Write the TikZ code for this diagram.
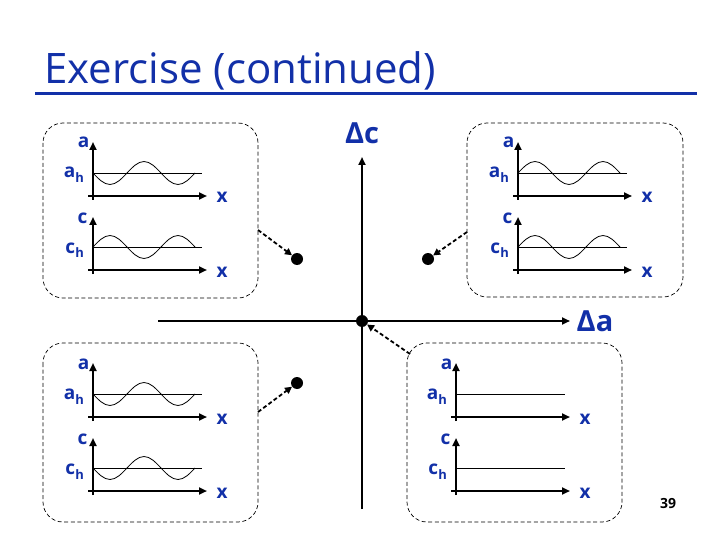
\documentclass[tikz,border=0pt]{standalone}
\usepackage{fontspec}
\setmainfont{Open Sans}
\usetikzlibrary{arrows.meta}
\definecolor{slideblue}{RGB}{18,48,168}

\begin{document}
\begin{tikzpicture}[x=1pt, y=-1pt,
    lbl/.style={text=slideblue, inner sep=0pt, anchor=base, font=\bfseries\fontsize{19}{19}\selectfont},
    axis/.style={line width=2.3pt, -{Triangle[length=8pt,width=7pt]}},
    panel/.style={draw, line width=0.7pt, dash pattern=on 4pt off 2.6pt, rounded corners=20pt},
    conn/.style={line width=1.8pt, dash pattern=on 4pt off 2.5pt, -{Triangle[length=7pt,width=7pt]}},
    dot/.style={circle, fill, inner sep=0pt, minimum size=12pt}]
    \useasboundingbox (0,0) rectangle (720,540);
    % title
    \node[anchor=base west, text=slideblue, inner sep=0pt, font=\fontsize{42}{42}\selectfont] (title) at (44,84) {Exercise (continued)};
    \draw[slideblue, line width=3pt] (35,94) -- (697,94);
    % phase plane
    \draw[axis, line width=2.6pt] (362,509) -- (362,157);
    \draw[axis, line width=2.6pt] (158,321) -- (570,321);
    \node[lbl, font=\bfseries\fontsize{29}{29}\selectfont] (dc) at (362,144) {Δc};
    \node[lbl, font=\bfseries\fontsize{29}{29}\selectfont] (da) at (595,331) {Δa};
    % dashed panels
    \draw[panel] (43,123) rectangle (258,298);
    \draw[panel] (467,123) rectangle (683,297);
    \draw[panel] (43,343) rectangle (258,522);
    \draw[panel] (407,343) rectangle (622,522);
    % the four sketches: origin, sign of a wave, sign of c wave
    \foreach \ox/\oy/\sa/\sc/\nm in {93/196/-1/1/tl, 518/196/1/1/tr, 93/417/-1/-1/bl, 456/417/0/0/br} {
        \draw[axis] (\ox,\oy+4) -- (\ox,\oy-54);
        \draw[axis] (\ox-5,\oy) -- (\ox+114,\oy);
        \draw[axis] (\ox,\oy+78) -- (\ox,\oy+21);
        \draw[axis] (\ox-5,\oy+74) -- (\ox+114,\oy+74);
        \draw[line width=0.8pt] (\ox,\oy-23) -- (\ox+109,\oy-23);
        \draw[line width=0.8pt] (\ox,\oy+51) -- (\ox+109,\oy+51);
        \draw[line width=0.8pt] (\ox,\oy-23) sin ++(17,{-(\sa)*11.5}) cos ++(17,{(\sa)*11.5})
            sin ++(17,{(\sa)*11.5}) cos ++(17,{-(\sa)*11.5})
            sin ++(17,{-(\sa)*11.5}) cos ++(17,{(\sa)*11.5});
        \draw[line width=0.8pt] (\ox,\oy+51) sin ++(17,{-(\sc)*11.5}) cos ++(17,{(\sc)*11.5})
            sin ++(17,{(\sc)*11.5}) cos ++(17,{-(\sc)*11.5})
            sin ++(17,{-(\sc)*11.5}) cos ++(17,{(\sc)*11.5});
        \node[lbl] (a-\nm) at (\ox-9.5,\oy-48) {a};
        \node[lbl, anchor=base east] (ah-\nm) at (\ox-9,\oy-18) {a\raisebox{-5pt}{\fontsize{13}{13}\selectfont h}};
        \node[lbl] (c-\nm) at (\ox-10.5,\oy+27) {c};
        \node[lbl, anchor=base east] (ch-\nm) at (\ox-9,\oy+57) {c\raisebox{-5pt}{\fontsize{13}{13}\selectfont h}};
        \node[lbl] (xa-\nm) at (\ox+129,\oy+7) {x};
        \node[lbl] (xc-\nm) at (\ox+129,\oy+81) {x};
    }
    % states in the plane
    \node[dot] (o) at (362,321) {};
    \node[dot] (ptl) at (297,259) {};
    \node[dot] (ptr) at (428,259) {};
    \node[dot] (pbl) at (297,383) {};
    \coordinate (stl) at (258,230);
    \coordinate (str) at (467,232);
    \coordinate (sbl) at (258,412);
    \coordinate (sbr) at (410,354);
    \draw[conn] (stl) -- (ptl);
    \draw[conn] (str) -- (ptr);
    \draw[conn] (sbl) -- (pbl);
    \draw[conn] (sbr) -- (o);
    % slide number
    \node[anchor=base, inner sep=0pt, font=\bfseries\fontsize{14}{14}\selectfont] (pg) at (668,508) {39};
\end{tikzpicture}
\end{document}
